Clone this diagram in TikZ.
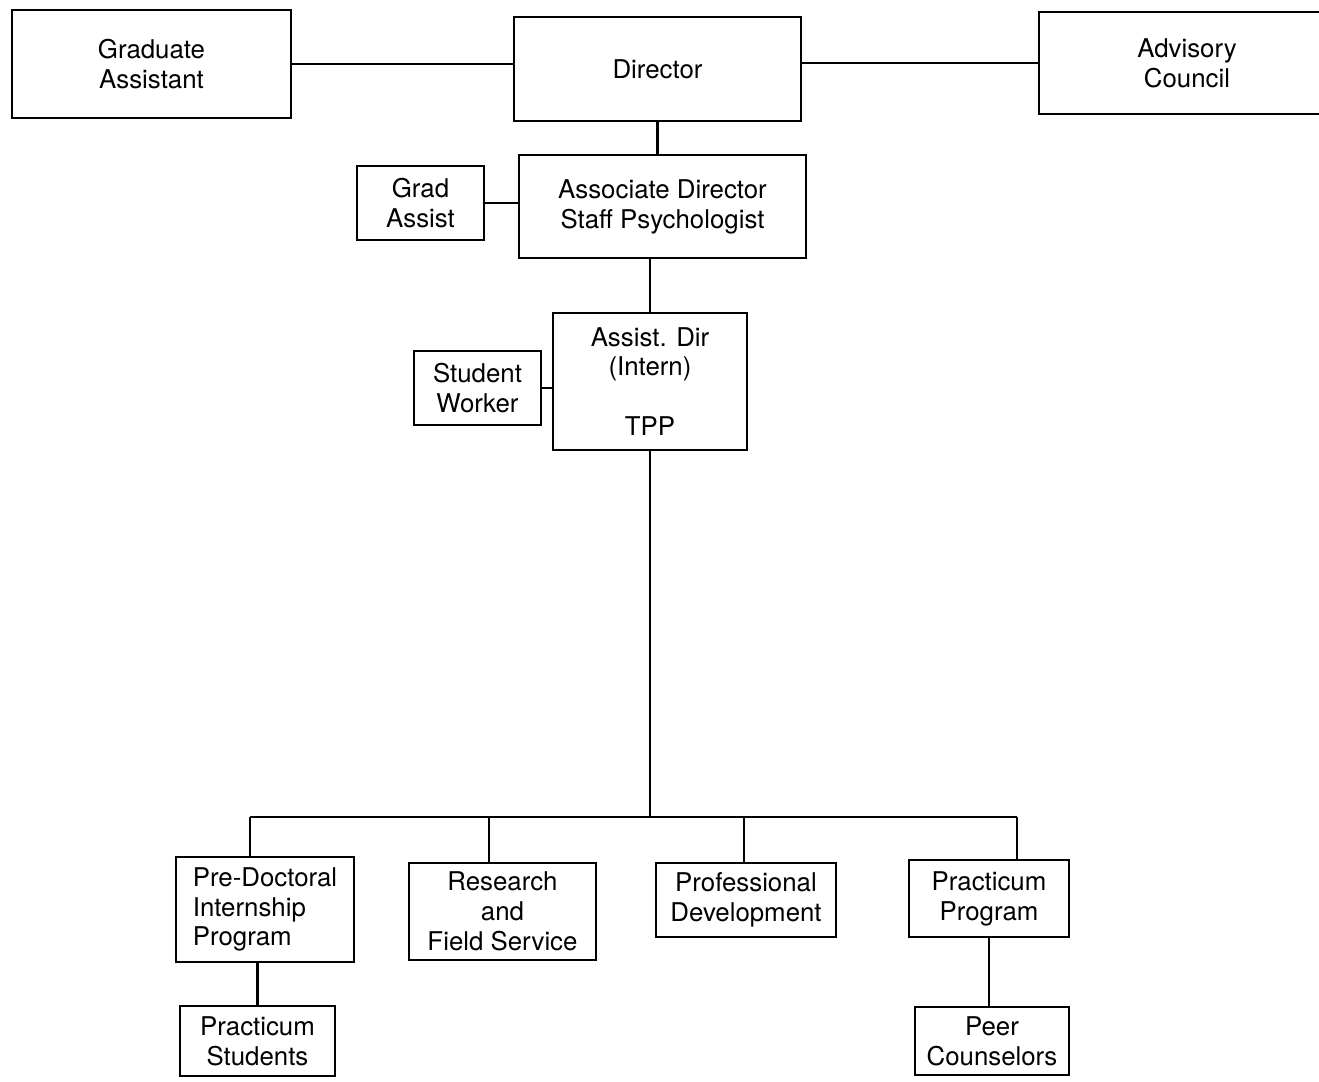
\documentclass[tikz,border=0pt]{standalone}
\usepackage{fontspec}
\setmainfont{TeX Gyre Heros}
\usetikzlibrary{positioning}
\begin{document}
\begin{tikzpicture}
	[x=0.02cm, y=-0.02cm,
	every node/.style = {shape=rectangle, draw, line width=1.3pt, inner sep=0pt,
		align=center, font=\fontsize{14.7}{17}\selectfont},
	link/.style={draw, line width=1.3pt}]
	\useasboundingbox (0,0) rectangle (1319,1082);
	% top row
	\node[minimum width=5.58cm, minimum height=2.16cm] (GA) at (151.5,64) {Graduate\\Assistant};
	\node[minimum width=5.74cm, minimum height=2.08cm] (Dir) at (657.5,69) {Director};
	\node[minimum width=5.92cm, minimum height=2.04cm] (Adv) at (1187,63) {Advisory\\Council};
	% staff
	\node[minimum width=5.74cm, minimum height=2.06cm] (Assoc) at (662.5,206.5) {Associate Director\\Staff Psychologist};
	\node[minimum width=2.54cm, minimum height=1.48cm] (GradAs) at (420.5,203) {Grad\\Assist};
	\node[minimum width=3.88cm, minimum height=2.74cm] (ADir) at (650,381.5) {Assist. Dir\\(Intern)\\ \\TPP};
	\node[minimum width=2.54cm, minimum height=1.48cm] (SW) at (477.5,388) {Student\\Worker};
	% programs
	\node[minimum width=3.56cm, minimum height=2.10cm, align=left] (PDI) at (265,909.5) {Pre-Doctoral\\Internship\\Program};
	\node[minimum width=3.74cm, minimum height=1.94cm] (RFS) at (502.5,911.5) {Research\\and\\Field Service};
	\node[minimum width=3.60cm, minimum height=1.48cm] (PD) at (746,900) {Professional\\Development};
	\node[minimum width=3.20cm, minimum height=1.54cm] (PP) at (989,898.5) {Practicum\\Program};
	\node[minimum width=3.10cm, minimum height=1.40cm] (PS) at (257.5,1041) {Practicum\\Students};
	\node[minimum width=3.08cm, minimum height=1.36cm] (PC) at (992,1041) {Peer\\Counselors};
	% bus
	\coordinate (bus) at (650,817);
	\coordinate (b1) at (250,817);
	\coordinate (b2) at (489,817);
	\coordinate (b3) at (744,817);
	\coordinate (b4) at (1017,817);
	% connectors
	\draw[link] (GA.east) -- (GA.east -| Dir.west);
	\draw[link] (Adv.west -| Dir.east) -- (Adv.west);
	\draw[link] (Dir.south) -- (Dir.south |- Assoc.north);
	\draw[link] (GradAs.east) -- (GradAs.east -| Assoc.west);
	\draw[link] (ADir.north |- Assoc.south) -- (ADir.north);
	\draw[link] (SW.east) -- (SW.east -| ADir.west);
	\draw[link] (ADir.south) -- (bus);
	\draw[link] (b1) -- (b4);
	\draw[link] (b1) -- (b1 |- PDI.north);
	\draw[link] (b2) -- (b2 |- RFS.north);
	\draw[link] (b3) -- (b3 |- PD.north);
	\draw[link] (b4) -- (b4 |- PP.north);
	\draw[link] (PS.north |- PDI.south) -- (PS.north);
	\draw[link] (PP.south) -- (PP.south |- PC.north);
\end{tikzpicture}
\end{document}
